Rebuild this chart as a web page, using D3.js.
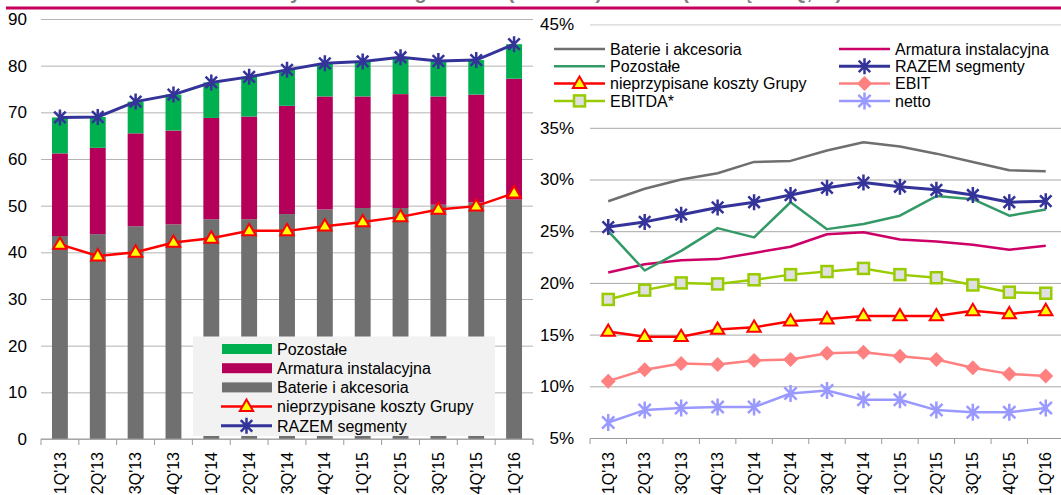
<!DOCTYPE html>
<html>
<head>
<meta charset="utf-8">
<script src="https://cdn.jsdelivr.net/npm/d3@7"></script>
<style>
  body { margin: 0; background: #fff; }
  svg { display: block; font-family: "Liberation Sans", Arial, sans-serif; }
</style>
</head>
<body>
<div id="chart"></div>
<script>
// data
const quarters = ["1Q'13", "2Q'13", "3Q'13", "4Q'13", "1Q'14", "2Q'14", "3Q'14",
  "4Q'14", "1Q'15", "2Q'15", "3Q'15", "4Q'15", "1Q'16"];

// left: mln PLN
const baterie = [43.5, 43.9, 45.6, 46.0, 47.1, 47.1, 48.2, 49.2, 49.5, 49.5, 50.2, 50.7, 51.3];
const armatura = [17.7, 18.5, 19.9, 20.1, 21.7, 22.0, 23.2, 24.2, 23.9, 24.4, 23.2, 23.1, 25.9];
const pozostale = [7.7, 6.6, 6.8, 7.7, 7.6, 8.5, 7.7, 7.1, 7.5, 7.9, 7.6, 7.4, 7.4];
const razem = [68.9, 69.0, 72.3, 73.8, 76.4, 77.6, 79.1, 80.5, 80.9, 81.8, 81.0, 81.2, 84.6];
const koszty = [41.7, 39.2, 40.0, 42.1, 43.0, 44.6, 44.6, 45.6, 46.5, 47.6, 49.2, 49.9, 52.7];
const leftTicks = [0, 10, 20, 30, 40, 50, 60, 70, 80, 90];

// right: %
const mBaterie = [27.9, 29.1, 30.0, 30.6, 31.7, 31.8, 32.8, 33.6, 33.2, 32.5, 31.7, 30.9, 30.8];
const mArmatura = [21.0, 21.8, 22.2, 22.3, 22.9, 23.5, 24.7, 24.9, 24.2, 24.0, 23.7, 23.2, 23.6];
const mPozostale = [25.0, 21.2, 23.1, 25.3, 24.4, 27.8, 25.2, 25.7, 26.5, 28.4, 28.1, 26.5, 27.1];
const mRazem = [25.4, 25.9, 26.6, 27.3, 27.8, 28.5, 29.2, 29.7, 29.3, 29.0, 28.5, 27.8, 27.9];
const mKoszty = [15.3, 14.8, 14.8, 15.5, 15.7, 16.3, 16.5, 16.8, 16.8, 16.8, 17.3, 17.0, 17.3];
const mEbit = [10.5, 11.6, 12.2, 12.1, 12.5, 12.6, 13.2, 13.3, 12.9, 12.6, 11.8, 11.2, 11.0];
const mEbitda = [18.4, 19.3, 20.0, 19.9, 20.3, 20.8, 21.1, 21.4, 20.8, 20.5, 19.8, 19.1, 19.0];
const mNetto = [6.5, 7.7, 7.9, 8.0, 8.0, 9.3, 9.6, 8.7, 8.7, 7.7, 7.5, 7.5, 7.9];
const rightTicks = [5, 10, 15, 20, 25, 30, 35, 40, 45];

const W = 1061, H = 495;
const svg = d3.select("#chart").append("svg").attr("width", W).attr("height", H);

// title (cut off at the top edge, as in the source) + magenta rule
svg.append("text")
  .attr("x", 560).attr("y", -1.5)
  .attr("text-anchor", "middle")
  .style("font-size", "20px").style("font-weight", "bold").style("fill", "#7f7f7f")
  .text("Zysk brutto segmentów (mln PLN) i marże (kroczące 4Q, %)");
svg.append("rect").attr("x", 6).attr("y", 6.5).attr("width", W - 6).attr("height", 3).attr("fill", "#c6005b");

// marker shapes
const starPath = (r) => {
  const d = r * 0.72;
  return `M0,${-r}V${r}M${-d},${-d}L${d},${d}M${-d},${d}L${d},${-d}`;
};
const triPath = (r) => `M0,${-r}L${r * 0.95},${r * 0.62}L${-r * 0.95},${r * 0.62}Z`;
const diaPath = (r) => `M0,${-r}L${r},0L0,${r}L${-r},0Z`;

function drawMarkers(g, pts, type, opt) {
  const gen = type === "star" ? starPath : type === "tri" ? triPath : type === "dia" ? diaPath : null;
  pts.forEach(([px, py]) => {
    if (type === "sq") {
      g.append("rect").attr("x", px - opt.r).attr("y", py - opt.r)
        .attr("width", opt.r * 2).attr("height", opt.r * 2)
        .attr("fill", opt.fill).attr("stroke", opt.stroke).attr("stroke-width", opt.sw);
    } else {
      g.append("path").attr("d", gen(opt.r)).attr("transform", `translate(${px},${py})`)
        .attr("fill", opt.fill || "none").attr("stroke", opt.stroke || "none")
        .attr("stroke-width", opt.sw || 0).attr("stroke-linejoin", "miter");
    }
  });
}

// ---------- LEFT CHART ----------
const xL = d3.scaleBand().domain(quarters).range([41, 533]).paddingInner(0.58).paddingOuter(0.29);
const yL = d3.scaleLinear().domain([0, 90]).range([439, 19]);
const left = svg.append("g");

left.append("g")
  .attr("transform", "translate(41,0)")
  .call(d3.axisLeft(yL).tickValues(leftTicks).tickSize(-492).tickPadding(14))
  .call((g) => g.select(".domain").remove())
  .call((g) => g.selectAll("line").attr("stroke", "#b4b4b4"))
  .call((g) => g.selectAll("text").style("font-size", "17px").attr("fill", "#000"));

const segs = [
  { key: "baterie", vals: baterie, color: "#707070" },
  { key: "armatura", vals: armatura, color: "#b5005a" },
  { key: "pozostale", vals: pozostale, color: "#00b050" },
];
const table = quarters.map((q, i) => {
  const row = { q };
  segs.forEach((s) => (row[s.key] = s.vals[i]));
  return row;
});
const stacked = d3.stack().keys(segs.map((s) => s.key))(table);

left.selectAll(".layer").data(stacked).join("g")
  .attr("fill", (d, i) => segs[i].color)
  .selectAll("rect").data((d) => d).join("rect")
  .attr("x", (d) => xL(d.data.q))
  .attr("width", xL.bandwidth())
  .attr("y", (d) => yL(d[1]))
  .attr("height", (d) => yL(d[0]) - yL(d[1]));

// x axis line + boundary ticks + labels
const xAxisL = left.append("g");
xAxisL.append("line").attr("x1", 41).attr("x2", 533).attr("y1", 439).attr("y2", 439).attr("stroke", "#9a9a9a");
d3.range(quarters.length + 1).forEach((i) => {
  const tx = xL.range()[0] + i * xL.step();
  xAxisL.append("line").attr("x1", tx).attr("x2", tx).attr("y1", 439).attr("y2", 445).attr("stroke", "#9a9a9a");
});
quarters.forEach((q) => {
  xAxisL.append("text")
    .attr("transform", `translate(${xL(q) + xL.bandwidth() / 2},452) rotate(-90)`)
    .attr("text-anchor", "end").attr("dy", "0.35em")
    .style("font-size", "16px").text(q);
});

const cxL = (i) => xL(quarters[i]) + xL.bandwidth() / 2;
const lineL = d3.line().x((d, i) => cxL(i)).y((d) => yL(d));

left.append("path").datum(koszty).attr("d", lineL).attr("fill", "none").attr("stroke", "#ff0000").attr("stroke-width", 2.5);
drawMarkers(left.append("g"), koszty.map((v, i) => [cxL(i), yL(v)]), "tri", { r: 7, fill: "#ffff00", stroke: "#ff0000", sw: 2 });

left.append("path").datum(razem).attr("d", lineL).attr("fill", "none").attr("stroke", "#333399").attr("stroke-width", 3);
drawMarkers(left.append("g"), razem.map((v, i) => [cxL(i), yL(v)]), "star", { r: 8, stroke: "#333399", sw: 2.5 });

// left legend
const legL = left.append("g");
legL.append("rect").attr("x", 193).attr("y", 336.5).attr("width", 302).attr("height", 99.5).attr("fill", "#f2f2f2");
const legLItems = [
  { name: "Pozostałe", type: "box", color: "#00b050" },
  { name: "Armatura instalacyjna", type: "box", color: "#b5005a" },
  { name: "Baterie i akcesoria", type: "box", color: "#707070" },
  { name: "nieprzypisane koszty Grupy", type: "tri", color: "#ff0000" },
  { name: "RAZEM segmenty", type: "star", color: "#333399" },
];
legLItems.forEach((it, i) => {
  const cy = 349 + i * 19.2;
  const g = legL.append("g");
  if (it.type === "box") {
    g.append("rect").attr("x", 222).attr("y", cy - 5).attr("width", 50).attr("height", 10).attr("fill", it.color);
  } else {
    g.append("line").attr("x1", 221).attr("x2", 272).attr("y1", cy).attr("y2", cy)
      .attr("stroke", it.color).attr("stroke-width", it.type === "tri" ? 2.5 : 3);
    if (it.type === "tri") drawMarkers(g, [[246.5, cy]], "tri", { r: 7, fill: "#ffff00", stroke: "#ff0000", sw: 2 });
    else drawMarkers(g, [[246.5, cy]], "star", { r: 8, stroke: "#333399", sw: 2.5 });
  }
  g.append("text").attr("x", 277).attr("y", cy).attr("dy", "0.36em").style("font-size", "16px").text(it.name);
});

// ---------- RIGHT CHART ----------
const xR = d3.scaleBand().domain(quarters).range([590, 1064]);
const yR = d3.scaleLinear().domain([5, 45]).range([438, 24.4]);
const right = svg.append("g");

right.append("g")
  .attr("transform", "translate(590,0)")
  .call(d3.axisLeft(yR).tickValues(rightTicks).tickSize(-480).tickPadding(16).tickFormat((d) => d + "%"))
  .call((g) => g.select(".domain").remove())
  .call((g) => g.selectAll("line").attr("stroke", (d) => (d === 45 ? "#cccccc" : "#a8a8a8")))
  .call((g) => g.selectAll("text").style("font-size", "17px").attr("fill", "#000"));

const xAxisR = right.append("g");
xAxisR.append("line").attr("x1", 590).attr("x2", 1064).attr("y1", 438.5).attr("y2", 438.5).attr("stroke", "#9a9a9a");
d3.range(quarters.length + 1).forEach((i) => {
  const tx = xR.range()[0] + i * xR.step();
  xAxisR.append("line").attr("x1", tx).attr("x2", tx).attr("y1", 438.5).attr("y2", 444).attr("stroke", "#9a9a9a");
});
quarters.forEach((q) => {
  xAxisR.append("text")
    .attr("transform", `translate(${xR(q) + xR.bandwidth() / 2},452) rotate(-90)`)
    .attr("text-anchor", "end").attr("dy", "0.35em")
    .style("font-size", "16px").text(q);
});

const cxR = (i) => xR(quarters[i]) + xR.bandwidth() / 2;
const lineR = d3.line().x((d, i) => cxR(i)).y((d) => yR(d));

const rSeries = [
  { name: "Baterie i akcesoria", vals: mBaterie, color: "#6f6f6f", sw: 2.5 },
  { name: "Armatura instalacyjna", vals: mArmatura, color: "#cc0066", sw: 2.5 },
  { name: "Pozostałe", vals: mPozostale, color: "#339966", sw: 2.5 },
  { name: "RAZEM segmenty", vals: mRazem, color: "#333399", sw: 3, marker: "star", m: { r: 8, stroke: "#333399", sw: 2.5 } },
  { name: "nieprzypisane koszty Grupy", vals: mKoszty, color: "#ff0000", sw: 2.5, marker: "tri", m: { r: 7, fill: "#ffff00", stroke: "#ff0000", sw: 2 } },
  { name: "EBIT", vals: mEbit, color: "#ff8080", sw: 2.5, marker: "dia", m: { r: 7.5, fill: "#ff8080" } },
  { name: "EBITDA*", vals: mEbitda, color: "#99cc00", sw: 2.5, marker: "sq", m: { r: 5.5, fill: "#e0e0e0", stroke: "#99cc00", sw: 2.5 } },
  { name: "netto", vals: mNetto, color: "#9999ff", sw: 2.5, marker: "star", m: { r: 8.5, stroke: "#9999ff", sw: 2.5 } },
];

rSeries.forEach((s) => {
  right.append("path").datum(s.vals).attr("d", lineR).attr("fill", "none")
    .attr("stroke", s.color).attr("stroke-width", s.sw).attr("stroke-linejoin", "round");
  if (s.marker) drawMarkers(right.append("g"), s.vals.map((v, i) => [cxR(i), yR(v)]), s.marker, s.m);
});

// right legend: white box over the 40% row, 2 columns, 4 rows
const legOrder = ["Baterie i akcesoria", "Armatura instalacyjna", "Pozostałe", "RAZEM segmenty",
  "nieprzypisane koszty Grupy", "EBIT", "EBITDA*", "netto"];
const legR = right.append("g");
legR.append("rect").attr("x", 537).attr("y", 34).attr("width", W - 537).attr("height", 78).attr("fill", "#fff");
legOrder.forEach((name, i) => {
  const s = rSeries.find((d) => d.name === name);
  const col = i % 2, row = Math.floor(i / 2);
  const x0 = col === 0 ? 554 : 839;
  const cy = 49 + row * 17.3;
  const g = legR.append("g");
  g.append("line").attr("x1", x0).attr("x2", x0 + 51).attr("y1", cy).attr("y2", cy)
    .attr("stroke", s.color).attr("stroke-width", s.sw);
  if (s.marker) drawMarkers(g, [[x0 + 25.5, cy]], s.marker, s.m);
  g.append("text").attr("x", x0 + 56).attr("y", cy).attr("dy", "0.36em").style("font-size", "16px").text(name);
});
</script>
</body>
</html>
